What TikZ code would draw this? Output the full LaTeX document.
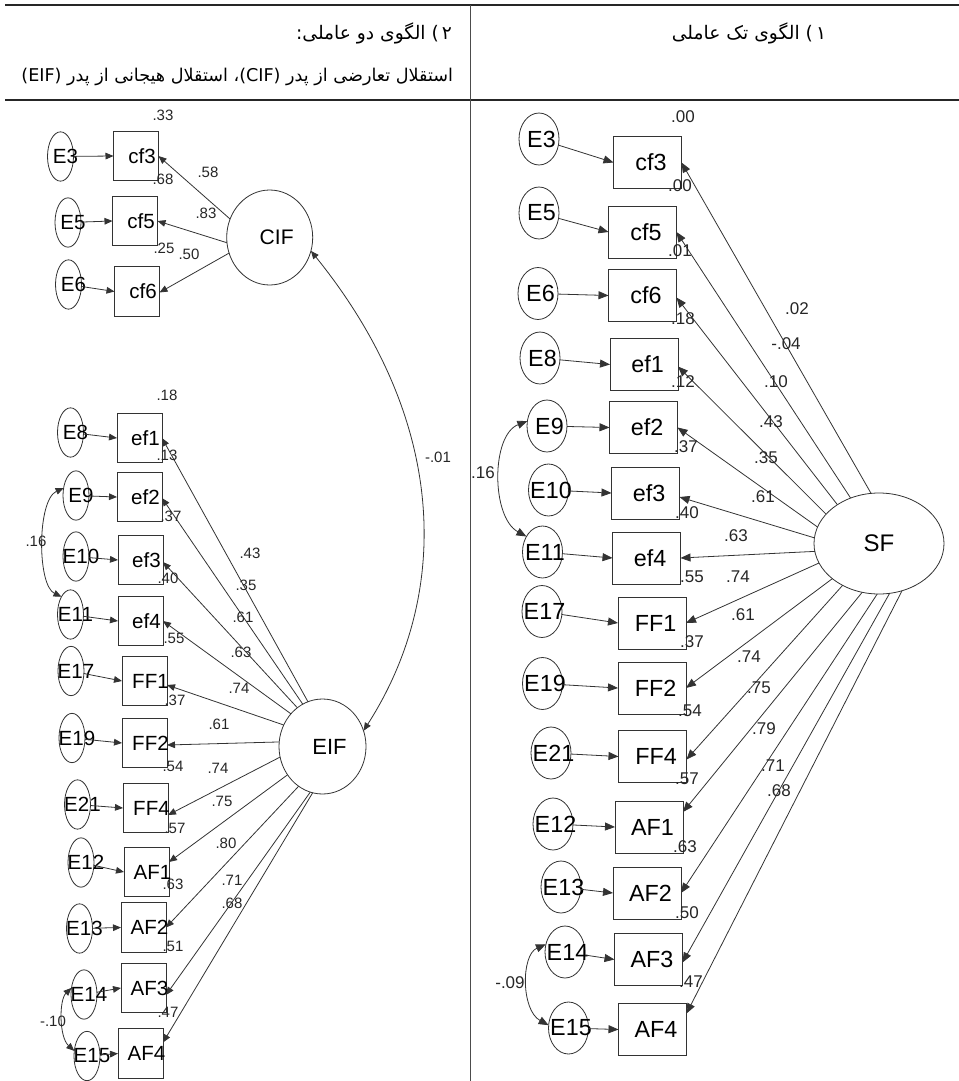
\documentclass[tikz,border=0pt]{standalone}
\usepackage{fontspec}
\setmainfont{Liberation Sans}
\newfontfamily\pfont[Script=Arabic]{DejaVu Sans}
\TeXXeTstate=1
\usetikzlibrary{arrows.meta,calc,shapes.geometric}
\tikzset{
  every node/.style={inner sep=0pt, outer sep=0pt},
  ink/.style={draw=black!80, line width=0.6pt},
  lbox/.style={ink, rectangle, minimum width=33.75pt, minimum height=37pt},
  rbox/.style={ink, rectangle, minimum width=51pt, minimum height=39pt},
  lerr/.style={ink, ellipse, minimum width=19.5pt, minimum height=37pt},
  rerr/.style={ink, ellipse, minimum width=30pt, minimum height=39pt},
  lname/.style={font=\fontsize{15.4pt}{16pt}\selectfont},
  rname/.style={font=\fontsize{17.5pt}{18pt}\selectfont},
  lnum/.style={font=\fontsize{11.25pt}{12pt}\selectfont, text=black!85},
  rnum/.style={font=\fontsize{12.75pt}{13pt}\selectfont, text=black!85},
  larr/.style={ink, -{Triangle[length=6pt,width=5pt]}},
  rarr/.style={ink, -{Triangle[length=7.5pt,width=6pt]}},
  lcov/.style={ink, {Triangle[length=6pt,width=5pt]}-{Triangle[length=6pt,width=5pt]}},
  rcov/.style={ink, {Triangle[length=7.5pt,width=6pt]}-{Triangle[length=7.5pt,width=6pt]}},
  headA/.style={font=\pfont\fontsize{14pt}{16pt}\selectfont},
  headB/.style={font=\pfont\fontsize{13.2pt}{15pt}\selectfont},
}
\begin{document}
\begin{tikzpicture}[x=0.75pt,y=-0.75pt]
\useasboundingbox (0,0) rectangle (959,1081);
% table rules
\draw[black!85, line width=1.5pt] (5,5) -- (959,5);
\draw[black!85, line width=1.1pt] (5,100) -- (959,100);
\draw[black!70, line width=0.75pt] (470,5) -- (470,1081);
% headers
\node[headA] (h1) at (749,33) {\beginR\beginL)\,۱\endL{} الگوی تک عاملی\endR};
\node[headA, anchor=east] (h2) at (452,33) {\beginR\beginL)\,۲\endL{} الگوی دو عاملی:\endR};
\node[headB, anchor=east] (h3) at (453,77) {\beginR استقلال تعارضی از پدر \beginL(CIF)\endL، استقلال هیجانی از پدر \beginL(EIF)\endL\endR};

% ================= LEFT PANEL =================
\node[ink, ellipse, minimum width=64.5pt, minimum height=71.25pt] (cif) at (269.7,237.5) {};
\node[lname, font=\fontsize{15.8pt}{16pt}\selectfont] (tcif) at ($(cif)+(7,0)$) {CIF};
\node[ink, ellipse, minimum width=65.25pt, minimum height=71.25pt] (eif) at (322.5,746.5) {};
\node[lname, font=\fontsize{16.5pt}{17pt}\selectfont] (teif) at ($(eif)+(7,0)$) {EIF};

% boxes
\foreach \n/\t/\x/\y in {lcf3/cf3/136/156, lcf5/cf5/135/221, lcf6/cf6/137/291.5,
  lef1/ef1/139.5/438, lef2/ef2/139.5/497, lef3/ef3/140.5/560, lef4/ef4/140.5/621,
  lFF1/FF1/144.5/681, lFF2/FF2/144.5/743, lFF4/FF4/145.5/808,
  lAF1/AF1/146.5/872, lAF2/AF2/143.5/927.5, lAF3/AF3/143.5/988, lAF4/AF4/140.5/1053.5}{
  \node[lbox] (\n) at (\x,\y) {};
  \node[lname] (t\n) at ($(\n)+(6,0)$) {\t};
}
% errors
\foreach \n/\t/\x/\y in {lE3/E3/60.5/156.5, lE5/E5/68/222.5, lE6/E6/68.5/284.5,
  lE8/E8/70.5/432.5, lE9/E9/76/495.5, lE10/E10/76/556.5, lE11/E11/70.5/614.5,
  lE17/E17/71/671, lE19/E19/72/738, lE21/E21/77.5/804.5,
  lE12/E12/81/862.5, lE13/E13/79.5/928.5, lE14/E14/84/994.5, lE15/E15/87/1056}{
  \node[lerr] (\n) at (\x,\y) {};
  \node[lname] (t\n) at ($(\n)+(5,0)$) {\t};
}
% error arrows
\foreach \e/\b in {lE3/lcf3, lE5/lcf5, lE6/lcf6, lE8/lef1, lE9/lef2, lE10/lef3, lE11/lef4,
  lE17/lFF1, lE19/lFF2, lE21/lFF4, lE12/lAF1, lE13/lAF2, lE14/lAF3, lE15/lAF4}{
  \draw[larr] (\e) -- (\b.west);
}
% loadings
\draw[larr] (cif.155) -- (lcf3.east);
\draw[larr] (cif.187) -- (lcf5.east);
\draw[larr] (cif.201) -- ($(lcf6.east)+(0,1)$);
\draw[larr] (eif.108) -- (lef1.east);
\draw[larr] (eif.115) -- ($(lef2.east)+(0,1)$);
\draw[larr] (eif.123) -- ($(lef3.east)+(0,2)$);
\draw[larr] (eif.134) -- (lef4.east);
\draw[larr] (eif.151) -- ($(lFF1.east)+(0,4)$);
\draw[larr] (eif.174) -- ($(lFF2.east)+(0,2)$);
\draw[larr] (eif.194) -- ($(lFF4.east)+(0,7)$);
\draw[larr] (eif.219) -- ($(lAF1.east)+(0,-10)$);
\draw[larr] (eif.239) -- (lAF2.east);
\draw[larr] (eif.255) -- ($(lAF3.east)+(0,7)$);
\draw[larr] (eif.258) -- ($(lAF4.east)+(0,-11)$);
% covariances
\draw[lcov] (cif.-18) .. controls (450,423) and (450,596) .. (eif.21);
\draw[lcov] (lE9.149) .. controls (37,500) and (37,585) .. (lE11.117);
\draw[lcov] (lE14.152) .. controls (59,1000) and (59,1037) .. (lE15.158);
% numbers
\foreach \v/\x/\y in {.33/163/115, .58/208/172, .68/163/179, .83/206/213, .25/164/248, .50/189/254,
  .18/167/395, .13/167/455, .37/171/516, .16/36/541, .43/250/553, .35/246/585, .61/243/617,
  .40/168/578, .63/241/652, .55/174/638, .74/239/688, .37/175/700, .61/219/724, -.01/438/457,
  .54/173/766, .74/218/768, .75/222/801, .57/175/828, .80/226/843, .63/173/884, .71/232/880,
  .68/232/903, .51/173/946, .47/168/1012, -.10/53/1021}{
  \node[lnum] at (\x,\y) {\v};
}

% ================= RIGHT PANEL =================
\node[ink, ellipse, minimum width=97.5pt, minimum height=75.75pt] (sf) at (879,543.5) {};
\node[rname, font=\fontsize{18pt}{18pt}\selectfont] (tsf) at (sf) {SF};
\foreach \n/\t/\x/\y in {rcf3/cf3/647.5/162.5, rcf5/cf5/642.5/232, rcf6/cf6/642.5/295.5,
  ref1/ef1/644/364.5, ref2/ef2/643.5/427.5, ref3/ef3/645.5/493, ref4/ef4/646.5/558,
  rFF1/FF1/652/623, rFF2/FF2/652/688, rFF4/FF4/652.5/756.5,
  rAF1/AF1/649/827, rAF2/AF2/647/893, rAF3/AF3/648.5/959.5, rAF4/AF4/652.5/1029.5}{
  \node[rbox] (\n) at (\x,\y) {};
  \node[rname] (t\n) at ($(\n)+(3.5,0)$) {\t};
}
\foreach \n/\t/\x/\y in {rE3/E3/539/139, rE5/E5/539/213, rE6/E6/538/293.5,
  rE8/E8/540/358, rE9/E9/547/426, rE10/E10/548.5/490, rE11/E11/542.5/552,
  rE17/E17/542/611.5, rE19/E19/542.5/683.5, rE21/E21/551/753,
  rE12/E12/553/824, rE13/E13/561/887, rE14/E14/565/952, rE15/E15/568.5/1028}{
  \node[rerr] (\n) at (\x,\y) {};
  \node[rname] (t\n) at ($(\n)+(2.5,0)$) {\t};
}
\foreach \e/\b in {rE3/rcf3, rE5/rcf5, rE6/rcf6, rE8/ref1, rE9/ref2, rE10/ref3, rE11/ref4,
  rE17/rFF1, rE19/rFF2, rE21/rFF4, rE12/rAF1, rE13/rAF2, rE14/rAF3, rE15/rAF4}{
  \draw[rarr] (\e) -- (\b.west);
}
\draw[rarr] (sf.99) -- (rcf3.east);
\draw[rarr] (sf.122) -- (rcf5.east);
\draw[rarr] (sf.137) -- ($(rcf6.east)+(0,2)$);
\draw[rarr] (sf.151) -- ($(ref1.east)+(0,2)$);
\draw[rarr] (sf.165) -- (ref2.east);
\draw[rarr] (sf.175) -- ($(ref3.east)+(0,4)$);
\draw[rarr] (sf.187) -- (ref4.east);
\draw[rarr] (sf.198) -- (rFF1.east);
\draw[rarr] (sf.217) -- (rFF2.east);
\draw[rarr] (sf.229) -- ($(rFF4.east)+(0,3)$);
\draw[rarr] (sf.251) -- ($(rAF1.east)+(0,-15)$);
\draw[rarr] (sf.268) -- (rAF2.east);
\draw[rarr] (sf.282) -- ($(rAF3.east)+(0,3)$);
\draw[rarr] (sf.296) -- ($(rAF4.east)+(0,-16)$);
\draw[rcov] (rE9.166) .. controls (491,435) and (491,517) .. (rE11.136);
\draw[rcov] (rE14.158) .. controls (521,955) and (521,1010) .. (rE15.172);
\foreach \v/\x/\y in {.00/683/117, .00/680/186, .01/680/251, .18/683/319, .12/683/382, .37/686/447,
  .02/797/309, -.04/786/344, .10/776/382, .43/771/422, .35/766/458, .61/763/497, .40/687/513,
  .63/736/536, .55/692/577, .74/738/577, .61/743/615, .37/692/642, .74/749/657, .75/759/688,
  .54/690/711, .79/764/729, .71/773/766, .68/779/791, .57/687/779, .63/685/847, .50/687/913,
  .47/691/982, .16/483/473, -.09/510/983}{
  \node[rnum] at (\x,\y) {\v};
}
\end{tikzpicture}
\end{document}
